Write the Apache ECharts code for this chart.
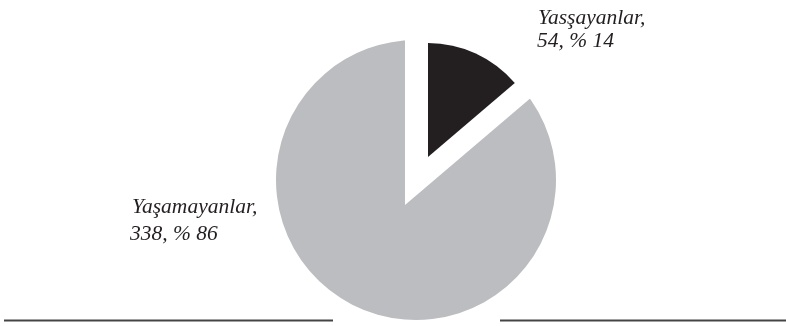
<!DOCTYPE html>
<html>
<head>
<meta charset="utf-8">
<script src="https://cdn.jsdelivr.net/npm/echarts@6/dist/echarts.min.js"></script>
<style>
html,body{margin:0;padding:0;background:#fff;}
#chart{width:786px;height:326px;}
</style>
</head>
<body>
<div id="chart"></div>
<script>
const categories = ['Yasşayanlar', 'Yaşamayanlar'];
const counts = [54, 338];
const percents = [14, 86];

const GRAY = '#bcbdc0';
const DARK = '#231f20';
const CLEAR = 'rgba(0,0,0,0)';

const chart = echarts.init(document.getElementById('chart'), null, {renderer: 'canvas'});

function pieData(colors) {
  return categories.map((c, i) => ({name: c, value: counts[i], itemStyle: {color: colors[i]}}));
}
const common = {
  type: 'pie', startAngle: 90, clockwise: true, silent: true, animation: false,
  label: {show: false}, labelLine: {show: false}, emphasis: {disabled: true},
  itemStyle: {borderWidth: 0}
};

const font = 'italic 21.5px "Liberation Serif", "Times New Roman", serif';
function txt(x, y, s) {
  return {type: 'text', x: x, y: y, z: 100,
    style: {text: s, font: font, fill: DARK, align: 'left', verticalAlign: 'middle'}};
}

chart.setOption({
  backgroundColor: '#ffffff',
  animation: false,
  series: [
    Object.assign({}, common, {name: 'base', center: [416, 180], radius: 140, data: pieData([GRAY, GRAY]), z: 1}),
    Object.assign({}, common, {name: 'gap', center: [405, 205], radius: 172, data: pieData(['#ffffff', CLEAR]), z: 2}),
    Object.assign({}, common, {name: 'slice', center: [428, 157], radius: 114, data: pieData([DARK, CLEAR]), z: 3})
  ],
  graphic: [
    txt(538, 18, categories[0] + ','),
    txt(537, 41, counts[0] + ', % ' + percents[0]),
    txt(132, 207, categories[1] + ','),
    txt(130, 234, counts[1] + ', % ' + percents[1]),
    {type: 'line', z: 50, shape: {x1: 4, y1: 320.5, x2: 333, y2: 320.5}, style: {stroke: '#444444', lineWidth: 2}},
    {type: 'line', z: 50, shape: {x1: 500, y1: 320.5, x2: 786, y2: 320.5}, style: {stroke: '#444444', lineWidth: 2}}
  ]
});
</script>
</body>
</html>
